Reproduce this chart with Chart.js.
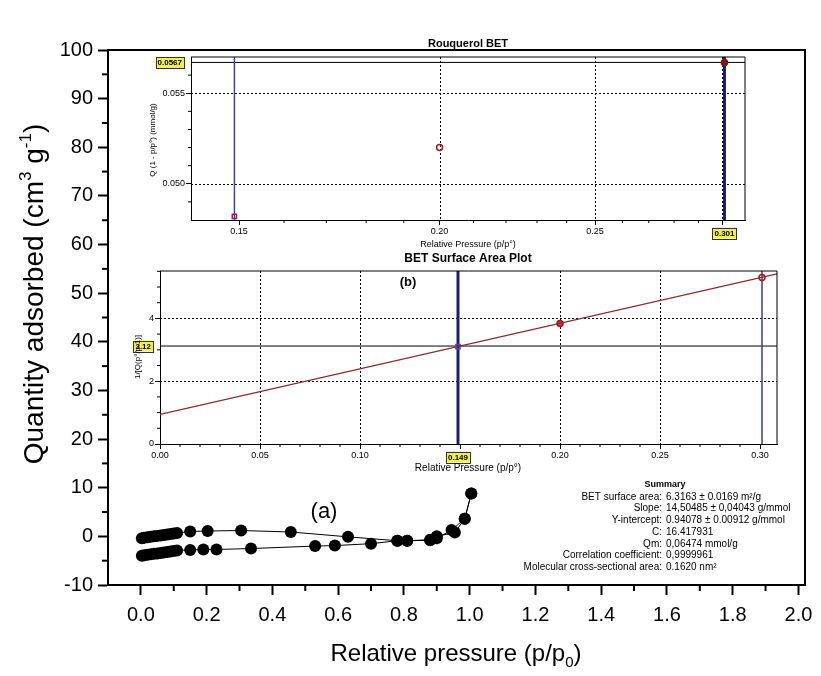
<!DOCTYPE html>
<html><head><meta charset="utf-8">
<script src="https://cdn.jsdelivr.net/npm/chart.js@4"></script>
<style>
html,body{margin:0;padding:0;background:#fff;overflow:hidden;}
#wrap{position:relative;width:821px;height:676px;background:#fff;}
canvas{position:absolute;left:0;top:0;}
</style></head><body>
<div id="wrap">
<canvas id="main" width="821" height="676"></canvas>
<canvas id="rq" width="821" height="676"></canvas>
<canvas id="bet" width="821" height="676"></canvas>
</div>
<script>
// ---------------- data ----------------
// (a) isotherm, adsorption branch (lower)
const adsorptionP = [0.003, 0.01, 0.02, 0.03, 0.04, 0.05, 0.06, 0.07, 0.08, 0.09, 0.10, 0.11, 0.15, 0.19, 0.23, 0.335, 0.53, 0.59, 0.70, 0.78, 0.81, 0.88, 0.90, 0.945, 0.985, 1.005];
const adsorptionQ = [-4.0, -3.9, -3.8, -3.7, -3.6, -3.5, -3.4, -3.3, -3.2, -3.1, -3.0, -2.9, -2.8, -2.7, -2.7, -2.5, -2.0, -1.9, -1.5, -0.9, -0.9, -0.8, -0.4, 1.3, 3.6, 8.8];
// desorption branch (upper)
const desorptionP = [1.005, 0.985, 0.955, 0.90, 0.88, 0.81, 0.78, 0.63, 0.456, 0.305, 0.203, 0.15, 0.11, 0.10, 0.09, 0.08, 0.07, 0.06, 0.05, 0.04, 0.03, 0.02, 0.01, 0.003];
const desorptionQ = [8.8, 3.6, 0.8, 0.0, -0.7, -0.9, -0.9, -0.1, 0.9, 1.2, 1.1, 1.0, 0.7, 0.6, 0.5, 0.4, 0.3, 0.2, 0.1, 0.0, -0.1, -0.2, -0.3, -0.4];

const mainXTicks = [0, 0.2, 0.4, 0.6, 0.8, 1.0, 1.2, 1.4, 1.6, 1.8, 2.0];
const mainXLabels = ['0.0', '0.2', '0.4', '0.6', '0.8', '1.0', '1.2', '1.4', '1.6', '1.8', '2.0'];
const mainXMinor = [0.1, 0.3, 0.5, 0.7, 0.9, 1.1, 1.3, 1.5, 1.7, 1.9];
const mainYTicks = [-10, 0, 10, 20, 30, 40, 50, 60, 70, 80, 90, 100];
const mainYLabels = ['-10', '0', '10', '20', '30', '40', '50', '60', '70', '80', '90', '100'];
const mainYMinor = [-5, 5, 15, 25, 35, 45, 55, 65, 75, 85, 95];

// Rouquerol BET inset
const rouqP = [0.149, 0.20, 0.301];
const rouqQ = [0.0482, 0.0520, 0.0567];
const rouqXTicks = [0.15, 0.20, 0.25, 0.30];
const rouqXLabels = ['0.15', '0.20', '0.25', ''];
const rouqXMinor = [0.16, 0.17, 0.18, 0.19, 0.21, 0.22, 0.23, 0.24, 0.26, 0.27, 0.28, 0.29];
const rouqYTicks = [0.050, 0.055];
const rouqYLabels = ['0.050', '0.055'];
const rouqYMinor = [0.049, 0.051, 0.052, 0.053, 0.054, 0.056];

// BET surface area plot inset
const betP = [0.149, 0.20, 0.301];
const betY = [3.10, 3.84, 5.30];
const betFitP = [0, 0.3085];
const betFitY = [0.941, 5.416];
const betXTicks = [0, 0.05, 0.10, 0.15, 0.20, 0.25, 0.30];
const betXLabels = ['0.00', '0.05', '0.10', '', '0.20', '0.25', '0.30'];
const betXMinor = [0.01, 0.02, 0.03, 0.04, 0.06, 0.07, 0.08, 0.09, 0.11, 0.12, 0.13, 0.14, 0.16, 0.17, 0.18, 0.19, 0.21, 0.22, 0.23, 0.24, 0.26, 0.27, 0.28, 0.29];
const betYTicks = [0, 2, 4];
const betYLabels = ['0', '2', '4'];
const betYMinor = [0.5, 1, 1.5, 2.5, 3, 3.5, 4.5, 5, 5.5];

// selection cursors
const selectedP = [0.149, 0.301];
const selectedPLabels = ['0.149', '0.301'];
const rouqCursor = 0.0567;
const rouqCursorLabel = '0.0567';
const betCursor = 3.12;
const betCursorLabel = '3.12';

const summaryLabels = ['BET surface area:', 'Slope:', 'Y-intercept:', 'C:', 'Qm:', 'Correlation coefficient:', 'Molecular cross-sectional area:'];
const summaryValues = ['6.3163 \u00b1 0.0169 m\u00b2/g', '14,50485 \u00b1 0,04043 g/mmol', '0.94078 \u00b1 0.00912 g/mmol', '16.417931', '0,06474 mmol/g', '0,9999961', '0.1620 nm\u00b2'];

// ---------------- helpers ----------------
const FONT = "'Liberation Sans', Arial, sans-serif";
const pts = (xs, ys) => xs.map((x, i) => ({x, y: ys[i]}));

function drawRich(ctx, segs, x, y, size, rot) {
  ctx.save();
  ctx.translate(x, y);
  if (rot) ctx.rotate(rot);
  ctx.fillStyle = '#000';
  ctx.textBaseline = 'alphabetic';
  ctx.textAlign = 'left';
  const fs = s => (s.sup || s.sub) ? Math.round(size * 0.62) : size;
  let total = 0;
  segs.forEach(s => { ctx.font = fs(s) + 'px ' + FONT; total += ctx.measureText(s.t).width; });
  let cx = -total / 2;
  const base = size * 0.36;
  segs.forEach(s => {
    ctx.font = fs(s) + 'px ' + FONT;
    const dy = s.sup ? -size * 0.42 : (s.sub ? size * 0.25 : 0);
    ctx.fillText(s.t, cx, base + dy);
    cx += ctx.measureText(s.t).width;
  });
  ctx.restore();
}

const deco = {
  id: 'deco',
  beforeDatasetsDraw(chart, args, o) {
    const {ctx, chartArea: a} = chart;
    const xs = chart.scales.x, ys = chart.scales.y;
    ctx.save();
    ctx.lineWidth = 1; ctx.strokeStyle = '#000';
    ctx.setLineDash([2, 2]);
    (o.xGrid || []).forEach(v => {
      const p = Math.round(xs.getPixelForValue(v)) + 0.5;
      ctx.beginPath(); ctx.moveTo(p, a.top); ctx.lineTo(p, a.bottom); ctx.stroke();
    });
    (o.yGrid || []).forEach(v => {
      const p = Math.round(ys.getPixelForValue(v)) + 0.5;
      ctx.beginPath(); ctx.moveTo(a.left, p); ctx.lineTo(a.right, p); ctx.stroke();
    });
    ctx.setLineDash([]);
    (o.hLines || []).forEach(h => {
      const p = ys.getPixelForValue(h.v);
      ctx.lineWidth = h.w; ctx.strokeStyle = h.c;
      ctx.beginPath(); ctx.moveTo(a.left, p); ctx.lineTo(a.right, p); ctx.stroke();
    });
    (o.vLines || []).forEach(h => {
      const p = xs.getPixelForValue(h.v);
      ctx.lineWidth = h.w; ctx.strokeStyle = h.c;
      ctx.beginPath(); ctx.moveTo(p, a.top); ctx.lineTo(p, a.bottom); ctx.stroke();
    });
    ctx.restore();
  },
  afterDraw(chart, args, o) {
    const {ctx, chartArea: a} = chart;
    const xs = chart.scales.x, ys = chart.scales.y;
    ctx.save();
    if (o.frame) {
      ctx.lineWidth = o.frame; ctx.strokeStyle = '#000';
      ctx.beginPath();
      ctx.moveTo(a.left, a.top); ctx.lineTo(a.right, a.top); ctx.lineTo(a.right, a.bottom);
      ctx.stroke();
    }
    if (o.minor) {
      ctx.lineWidth = o.minor.w; ctx.strokeStyle = '#000';
      (o.minor.x || []).forEach(v => {
        const p = xs.getPixelForValue(v);
        ctx.beginPath(); ctx.moveTo(p, a.bottom); ctx.lineTo(p, a.bottom + o.minor.len); ctx.stroke();
      });
      (o.minor.y || []).forEach(v => {
        const p = ys.getPixelForValue(v);
        ctx.beginPath(); ctx.moveTo(a.left, p); ctx.lineTo(a.left - o.minor.len, p); ctx.stroke();
      });
    }
    (o.tags || []).forEach(t => {
      ctx.font = t.font;
      const w = ctx.measureText(t.t).width + 4, h = 11;
      let cx, cy;
      if (t.axis === 'x') { cx = xs.getPixelForValue(t.v); cy = a.bottom + t.off; }
      else { cy = ys.getPixelForValue(t.v); cx = a.left - t.off - w / 2; }
      ctx.fillStyle = '#eeee55';
      ctx.fillRect(cx - w / 2, cy - h / 2, w, h);
      ctx.lineWidth = 1; ctx.strokeStyle = '#333';
      ctx.strokeRect(Math.round(cx - w / 2) + 0.5, Math.round(cy - h / 2) + 0.5, Math.round(w), h);
      ctx.fillStyle = '#000'; ctx.textAlign = 'center'; ctx.textBaseline = 'middle';
      ctx.fillText(t.t, cx, cy + 0.5);
    });
    (o.texts || []).forEach(t => {
      ctx.save();
      ctx.font = t.font; ctx.fillStyle = t.c || '#000';
      ctx.textAlign = t.align || 'center'; ctx.textBaseline = 'middle';
      ctx.translate(t.x, t.y);
      if (t.rot) ctx.rotate(t.rot);
      ctx.fillText(t.t, 0, 0);
      ctx.restore();
    });
    (o.rich || []).forEach(r => drawRich(ctx, r.segs, r.x, r.y, r.size, r.rot));
    ctx.restore();
  }
};
Chart.register(deco);

function axis(type, min, max, values, labels, fontSize, tickLen, tickW, borderW, pad, fit, horizontal) {
  return {
    type, min, max,
    afterBuildTicks: s => { s.ticks = values.map(v => ({value: v})); },
    afterFit: s => { if (horizontal) s.height = fit; else s.width = fit; },
    ticks: {
      autoSkip: false, maxRotation: 0, minRotation: 0, padding: pad, color: '#000',
      font: {family: FONT, size: fontSize},
      callback: (v, i) => labels[i]
    },
    grid: {display: true, drawOnChartArea: false, drawTicks: true, tickLength: tickLen, tickWidth: tickW, tickColor: '#000', color: '#000'},
    border: {display: true, color: '#000', width: borderW}
  };
}

const base = {
  responsive: false, animation: false, events: [],
  plugins: {legend: {display: false}, tooltip: {enabled: false}}
};

// ---------------- main isotherm ----------------
const mainX = axis('linear', -0.1, 2.02, mainXTicks, mainXLabels, 20, 10, 2, 2, 8, 91, true);
const mainY = axis('linear', -10, 100, mainYTicks, mainYLabels, 20, 10, 2, 2, 5, 108, false);

const summaryTexts = [{t: 'Summary', x: 665, y: 485, font: "bold 9px " + FONT}];
summaryLabels.forEach((s, i) => summaryTexts.push({t: s, x: 662, y: 497 + i * 11.7, font: "10px " + FONT, align: 'right'}));
summaryValues.forEach((s, i) => summaryTexts.push({t: s, x: 666, y: 497 + i * 11.7, font: "10px " + FONT, align: 'left'}));
summaryTexts.push({t: '(a)', x: 324, y: 512, font: "22px " + FONT});

const mainTitles = [
  {segs: [{t: 'Relative pressure (p/p'}, {t: '0', sub: true}, {t: ')'}], x: 456, y: 652, size: 24, rot: 0},
  {segs: [{t: 'Quantity adsorbed (cm'}, {t: '3', sup: true}, {t: ' g'}, {t: '-1', sup: true}, {t: ')'}], x: 33, y: 294, size: 28, rot: -Math.PI / 2}
];

new Chart(document.getElementById('main'), {
  type: 'scatter',
  data: {datasets: [
    {data: pts(adsorptionP, adsorptionQ), showLine: true, borderColor: '#000', borderWidth: 1,
     pointRadius: 6, pointBackgroundColor: '#000', pointBorderColor: '#000', pointBorderWidth: 0},
    {data: pts(desorptionP, desorptionQ), showLine: true, borderColor: '#000', borderWidth: 1,
     pointRadius: 6, pointBackgroundColor: '#000', pointBorderColor: '#000', pointBorderWidth: 0}
  ]},
  options: Object.assign({}, base, {
    layout: {padding: {left: 0, top: 50, right: 16, bottom: 0}},
    plugins: Object.assign({}, base.plugins, {
      deco: {frame: 2, minor: {x: mainXMinor, y: mainYMinor, len: 6, w: 2}, texts: summaryTexts, rich: mainTitles}
    }),
    scales: {x: mainX, y: mainY}
  })
});

// ---------------- Rouquerol BET inset ----------------
new Chart(document.getElementById('rq'), {
  type: 'scatter',
  data: {datasets: [
    {data: pts(rouqP, rouqQ), pointRadius: 3, pointStyle: ['rect', 'circle', 'circle'],
     pointBorderColor: ['#a0204a', '#a01818', '#7a1010'], pointBackgroundColor: ['rgba(0,0,0,0)', 'rgba(0,0,0,0)', '#8a1414'], pointBorderWidth: 1.5}
  ]},
  options: Object.assign({}, base, {
    layout: {padding: {left: 151, top: 57, right: 76, bottom: 442}},
    plugins: Object.assign({}, base.plugins, {
      deco: {
        frame: 1,
        xGrid: [0.20, 0.25, 0.30], yGrid: [0.050, 0.055],
        hLines: [{v: rouqCursor, w: 1, c: '#000'}],
        vLines: [{v: selectedP[0], w: 1.5, c: '#4040a8'}, {v: selectedP[1], w: 3, c: '#1c1c78'}],
        minor: {x: rouqXMinor, y: rouqYMinor, len: 3, w: 1},
        tags: [{axis: 'y', v: rouqCursor, t: rouqCursorLabel, off: 7, font: "bold 8px " + FONT},
               {axis: 'x', v: selectedP[1], t: selectedPLabels[1], off: 13, font: "bold 8px " + FONT}],
        texts: [
          {t: 'Rouquerol BET', x: 468, y: 44, font: "bold 11px " + FONT},
          {t: 'Relative Pressure (p/p\u00b0)', x: 468, y: 245, font: "9px " + FONT},
          {t: 'Q (1 - p/p\u00b0) (mmol/g)', x: 153, y: 140, font: "8px " + FONT, rot: -Math.PI / 2}
        ]
      }
    }),
    scales: {
      x: axis('logarithmic', 0.14, 0.31, rouqXTicks, rouqXLabels, 9, 5, 1, 1, 1, 14, true),
      y: axis('linear', 0.048, 0.057, rouqYTicks, rouqYLabels, 9, 5, 1, 1, 1, 40, false)
    }
  })
});

// ---------------- BET surface area plot inset ----------------
new Chart(document.getElementById('bet'), {
  type: 'scatter',
  data: {datasets: [
    {data: pts(betFitP, betFitY), showLine: true, borderColor: '#8a2a2a', borderWidth: 1.2, pointRadius: 0},
    {data: pts(betP, betY), pointRadius: 3, pointStyle: ['rect', 'circle', 'circle'],
     pointBorderColor: ['#4a4ab0', '#a01818', '#a01818'], pointBackgroundColor: ['rgba(0,0,0,0)', '#c04040', 'rgba(0,0,0,0)'], pointBorderWidth: 1.5}
  ]},
  options: Object.assign({}, base, {
    layout: {padding: {left: 140, top: 271, right: 44, bottom: 218}},
    plugins: Object.assign({}, base.plugins, {
      deco: {
        frame: 1,
        xGrid: [0.05, 0.10, 0.20, 0.25], yGrid: [2, 4],
        hLines: [{v: betCursor, w: 1, c: '#000'}],
        vLines: [{v: selectedP[0], w: 3, c: '#1c1c70'}, {v: selectedP[1], w: 1.5, c: '#3a3aa8'}],
        minor: {x: betXMinor, y: betYMinor, len: 3, w: 1},
        tags: [{axis: 'y', v: betCursor, t: betCursorLabel, off: 7, font: "bold 8px " + FONT},
               {axis: 'x', v: selectedP[0], t: selectedPLabels[0], off: 13, font: "bold 8px " + FONT}],
        texts: [
          {t: 'BET Surface Area Plot', x: 468, y: 259, font: "bold 12px " + FONT},
          {t: '(b)', x: 408, y: 282, font: "bold 13px " + FONT},
          {t: 'Relative Pressure (p/p\u00b0)', x: 468, y: 468, font: "10px " + FONT},
          {t: '1/[Q(p\u00b0/p-1)]', x: 138, y: 357, font: "8px " + FONT, rot: -Math.PI / 2}
        ]
      }
    }),
    scales: {
      x: axis('linear', 0, 0.3085, betXTicks, betXLabels, 9, 5, 1, 1, 1, 14, true),
      y: axis('linear', 0, 5.51, betYTicks, betYLabels, 9, 5, 1, 1, 1, 20, false)
    }
  })
});
</script>
</body></html>
